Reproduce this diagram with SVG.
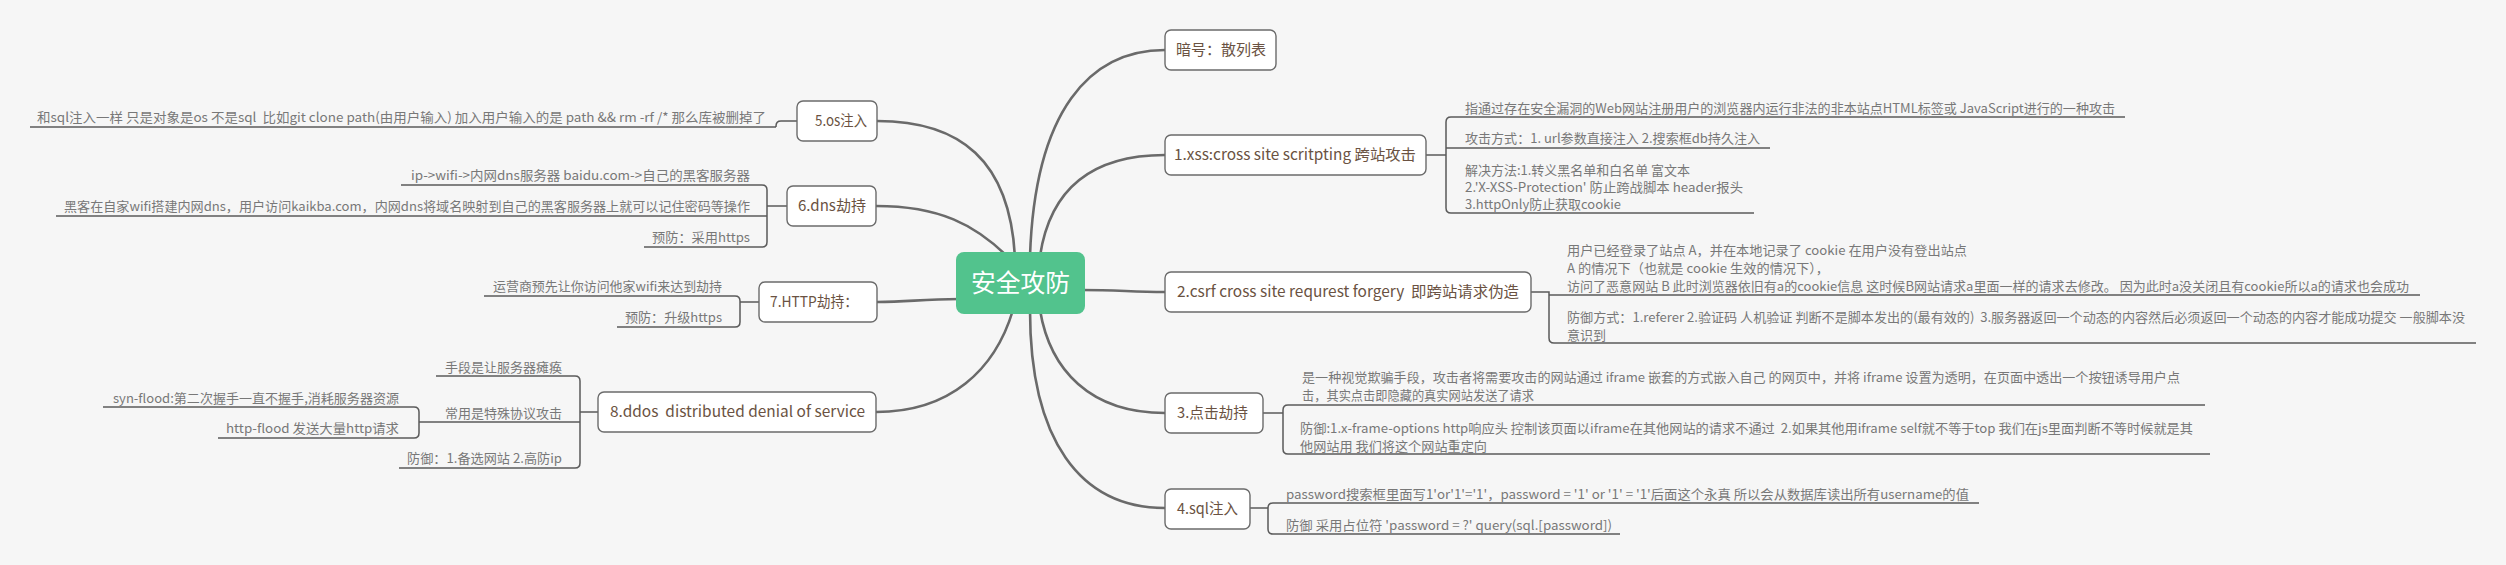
<svg xmlns="http://www.w3.org/2000/svg" width="2506" height="565" viewBox="0 0 2506 565">
<style>
text{font-family:"Noto Sans CJK SC","Noto Sans",sans-serif;white-space:pre}
.box{fill:#ffffff;stroke:#6b6b6b;stroke-width:1.4}
.nt{font-size:15px;fill:#6a5242}
.ct{font-size:13px;fill:#787878}
.ul{fill:none;stroke:#5a5a5a;stroke-width:1.5}
.br{fill:none;stroke:#5a5a5a;stroke-width:1.5}
.mc{fill:none;stroke:#6a6a6a;stroke-width:2.6;stroke-linecap:round}
.root{fill:#52c38d}
.rt{font-size:25px;fill:#ffffff}
</style>
<rect x="0" y="0" width="2506" height="565" fill="#f6f6f6"/>

<g id="connectors">
  <path class="mc" d="M1015,258 C1010,160 960,121 877,121"/>
  <path class="mc" d="M1007,256 C975,225 940,206 876,206"/>
  <path class="mc" d="M960,299 C920,299 910,302 877,302"/>
  <path class="mc" d="M1013,310 C995,370 950,412 876,412"/>
  <path class="mc" d="M1030,256 C1035,110 1090,50 1165,50"/>
  <path class="mc" d="M1040,256 C1050,190 1090,155 1165,155"/>
  <path class="mc" d="M1081,290 C1120,290 1130,292 1165,292"/>
  <path class="mc" d="M1040,310 C1050,370 1090,413 1165,413"/>
  <path class="mc" d="M1030,310 C1030,440 1080,508 1165,508"/>
  <path class="br" d="M1426,155 H1446"/>
  <path class="br" d="M1451,117 Q1446,117 1446,122 V208 Q1446,213 1451,213"/>
  <path class="br" d="M1531,292 H1549 V338 Q1549,343 1554,343"/>
  <path class="br" d="M1263,413 H1283"/>
  <path class="br" d="M1288,405 Q1283,405 1283,410 V449 Q1283,454 1288,454"/>
  <path class="br" d="M1250,508 H1268"/>
  <path class="br" d="M1273,503 Q1268,503 1268,508 V529 Q1268,534 1273,534"/>
  <path class="br" d="M797,121 H781 Q776,121 776,126 V127"/>
  <path class="br" d="M787,206 H767"/>
  <path class="br" d="M762,185 Q767,185 767,190 V242 Q767,247 762,247"/>
  <path class="br" d="M759,302 H740"/>
  <path class="br" d="M735,296 Q740,296 740,301 V322 Q740,327 735,327"/>
  <path class="br" d="M598,412 H580"/>
  <path class="br" d="M575,376 Q580,376 580,381 V463 Q580,468 575,468"/>
  <path class="br" d="M414,407 Q419,407 419,412 V433 Q419,438 414,438"/>
</g>

<g id="root">
  <rect class="root" x="956" y="252" width="129" height="62" rx="8"/>
  <text class="rt" x="971" y="292" textLength="99" lengthAdjust="spacingAndGlyphs">安全攻防</text>
</g>

<g id="n-hash">
  <rect class="box" x="1165" y="30" width="111" height="40" rx="6"/>
  <text class="nt" x="1176" y="55" textLength="90" lengthAdjust="spacingAndGlyphs">暗号：散列表</text>
</g>

<g id="n-xss">
  <rect class="box" x="1165" y="135" width="261" height="40" rx="6"/>
  <text class="nt" x="1174" y="160" textLength="242" lengthAdjust="spacingAndGlyphs">1.xss:cross site scritpting 跨站攻击</text>
</g>
<g id="n-xss-1">
  <text class="ct" x="1465" y="113" textLength="650" lengthAdjust="spacingAndGlyphs">指通过存在安全漏洞的Web网站注册用户的浏览器内运行非法的非本站点HTML标签或 JavaScript进行的一种攻击</text>
  <path class="ul" d="M1451,117 H2125"/>
</g>
<g id="n-xss-2">
  <text class="ct" x="1465" y="143" textLength="295" lengthAdjust="spacingAndGlyphs">攻击方式：1. url参数直接注入 2.搜索框db持久注入</text>
  <path class="ul" d="M1446,148 H1770"/>
</g>
<g id="n-xss-3">
  <text class="ct" x="1465" y="175" textLength="225" lengthAdjust="spacingAndGlyphs">解决方法:1.转义黑名单和白名单 富文本</text>
  <text class="ct" x="1465" y="192" textLength="278" lengthAdjust="spacingAndGlyphs">2.'X-XSS-Protection' 防止跨战脚本 header报头</text>
  <text class="ct" x="1465" y="209" textLength="156" lengthAdjust="spacingAndGlyphs">3.httpOnly防止获取cookie</text>
  <path class="ul" d="M1451,213 H1754"/>
</g>

<g id="n-csrf">
  <rect class="box" x="1165" y="272" width="366" height="40" rx="6"/>
  <text class="nt" x="1177" y="297" textLength="342" lengthAdjust="spacingAndGlyphs">2.csrf cross site requrest forgery  即跨站请求伪造</text>
</g>
<g id="n-csrf-1">
  <text class="ct" x="1567" y="255" textLength="400" lengthAdjust="spacingAndGlyphs">用户已经登录了站点 A，并在本地记录了 cookie 在用户没有登出站点</text>
  <text class="ct" x="1567" y="273" textLength="262" lengthAdjust="spacingAndGlyphs">A 的情况下（也就是 cookie 生效的情况下），</text>
  <text class="ct" x="1567" y="291" textLength="842" lengthAdjust="spacingAndGlyphs">访问了恶意网站 B 此时浏览器依旧有a的cookie信息 这时候B网站请求a里面一样的请求去修改。 因为此时a没关闭且有cookie所以a的请求也会成功</text>
  <path class="ul" d="M1549,295 H2420"/>
</g>
<g id="n-csrf-2">
  <text class="ct" x="1567" y="322" textLength="898" lengthAdjust="spacingAndGlyphs">防御方式：1.referer 2.验证码 人机验证 判断不是脚本发出的(最有效的)  3.服务器返回一个动态的内容然后必须返回一个动态的内容才能成功提交 一般脚本没</text>
  <text class="ct" x="1567" y="340">意识到</text>
  <path class="ul" d="M1554,343 H2476"/>
</g>

<g id="n-click">
  <rect class="box" x="1165" y="393" width="98" height="40" rx="6"/>
  <text class="nt" x="1177" y="418" textLength="71" lengthAdjust="spacingAndGlyphs">3.点击劫持</text>
</g>
<g id="n-click-1">
  <text class="ct" x="1302" y="382" textLength="878" lengthAdjust="spacingAndGlyphs">是一种视觉欺骗手段，攻击者将需要攻击的网站通过 iframe 嵌套的方式嵌入自己 的网页中，并将 iframe 设置为透明，在页面中透出一个按钮诱导用户点</text>
  <text class="ct" x="1302" y="400" textLength="232" lengthAdjust="spacingAndGlyphs">击，其实点击即隐藏的真实网站发送了请求</text>
  <path class="ul" d="M1288,405 H2205"/>
</g>
<g id="n-click-2">
  <text class="ct" x="1300" y="433" textLength="893" lengthAdjust="spacingAndGlyphs">防御:1.x-frame-options http响应头 控制该页面以iframe在其他网站的请求不通过  2.如果其他用iframe self就不等于top 我们在js里面判断不等时候就是其</text>
  <text class="ct" x="1300" y="451" textLength="187" lengthAdjust="spacingAndGlyphs">他网站用 我们将这个网站重定向</text>
  <path class="ul" d="M1288,454 H2210"/>
</g>

<g id="n-sql">
  <rect class="box" x="1165" y="489" width="85" height="40" rx="6"/>
  <text class="nt" x="1177" y="514" textLength="61" lengthAdjust="spacingAndGlyphs">4.sql注入</text>
</g>
<g id="n-sql-1">
  <text class="ct" x="1286" y="499" textLength="683" lengthAdjust="spacingAndGlyphs">password搜索框里面写1'or'1'='1'，password = '1' or '1' = '1'后面这个永真 所以会从数据库读出所有username的值</text>
  <path class="ul" d="M1273,503 H1979"/>
</g>
<g id="n-sql-2">
  <text class="ct" x="1286" y="530" textLength="326" lengthAdjust="spacingAndGlyphs">防御 采用占位符 'password = ?' query(sql.[password])</text>
  <path class="ul" d="M1273,534 H1620"/>
</g>

<g id="n-os">
  <rect class="box" x="797" y="101" width="80" height="40" rx="6"/>
  <text class="nt" x="815" y="126" textLength="52" lengthAdjust="spacingAndGlyphs">5.os注入</text>
</g>
<g id="n-os-1">
  <text class="ct" x="37" y="122" textLength="729" lengthAdjust="spacingAndGlyphs">和sql注入一样 只是对象是os 不是sql  比如git clone path(由用户输入) 加入用户输入的是 path &amp;&amp; rm -rf /* 那么库被删掉了</text>
  <path class="ul" d="M776,127 H30"/>
</g>

<g id="n-dns">
  <rect class="box" x="787" y="186" width="89" height="40" rx="6"/>
  <text class="nt" x="798" y="211" textLength="68" lengthAdjust="spacingAndGlyphs">6.dns劫持</text>
</g>
<g id="n-dns-1">
  <text class="ct" x="411" y="180" textLength="339" lengthAdjust="spacingAndGlyphs">ip-&gt;wifi-&gt;内网dns服务器 baidu.com-&gt;自己的黑客服务器</text>
  <path class="ul" d="M762,185 H401"/>
</g>
<g id="n-dns-2">
  <text class="ct" x="64" y="211" textLength="686" lengthAdjust="spacingAndGlyphs">黑客在自家wifi搭建内网dns，用户访问kaikba.com，内网dns将域名映射到自己的黑客服务器上就可以记住密码等操作</text>
  <path class="ul" d="M767,216 H56"/>
</g>
<g id="n-dns-3">
  <text class="ct" x="652" y="242" textLength="98" lengthAdjust="spacingAndGlyphs">预防：采用https</text>
  <path class="ul" d="M762,247 H644"/>
</g>

<g id="n-http">
  <rect class="box" x="759" y="282" width="118" height="40" rx="6"/>
  <text class="nt" x="770" y="307" textLength="88" lengthAdjust="spacingAndGlyphs">7.HTTP劫持：</text>
</g>
<g id="n-http-1">
  <text class="ct" x="493" y="291" textLength="229" lengthAdjust="spacingAndGlyphs">运营商预先让你访问他家wifi来达到劫持</text>
  <path class="ul" d="M735,296 H484"/>
</g>
<g id="n-http-2">
  <text class="ct" x="625" y="322" textLength="97" lengthAdjust="spacingAndGlyphs">预防：升级https</text>
  <path class="ul" d="M735,327 H617"/>
</g>

<g id="n-ddos">
  <rect class="box" x="598" y="392" width="278" height="40" rx="6"/>
  <text class="nt" x="610" y="417" textLength="255" lengthAdjust="spacingAndGlyphs">8.ddos  distributed denial of service</text>
</g>
<g id="n-ddos-1">
  <text class="ct" x="445" y="372" textLength="117" lengthAdjust="spacingAndGlyphs">手段是让服务器瘫痪</text>
  <path class="ul" d="M575,376 H436"/>
</g>
<g id="n-ddos-2">
  <text class="ct" x="445" y="418" textLength="117" lengthAdjust="spacingAndGlyphs">常用是特殊协议攻击</text>
  <path class="ul" d="M580,422 H419"/>
</g>
<g id="n-ddos-2-1">
  <text class="ct" x="113" y="403" textLength="286" lengthAdjust="spacingAndGlyphs">syn-flood:第二次握手一直不握手,消耗服务器资源</text>
  <path class="ul" d="M414,407 H103"/>
</g>
<g id="n-ddos-2-2">
  <text class="ct" x="226" y="433" textLength="173" lengthAdjust="spacingAndGlyphs">http-flood 发送大量http请求</text>
  <path class="ul" d="M414,438 H218"/>
</g>
<g id="n-ddos-3">
  <text class="ct" x="407" y="463" textLength="155" lengthAdjust="spacingAndGlyphs">防御：1.备选网站 2.高防ip</text>
  <path class="ul" d="M575,468 H399"/>
</g>
</svg>
